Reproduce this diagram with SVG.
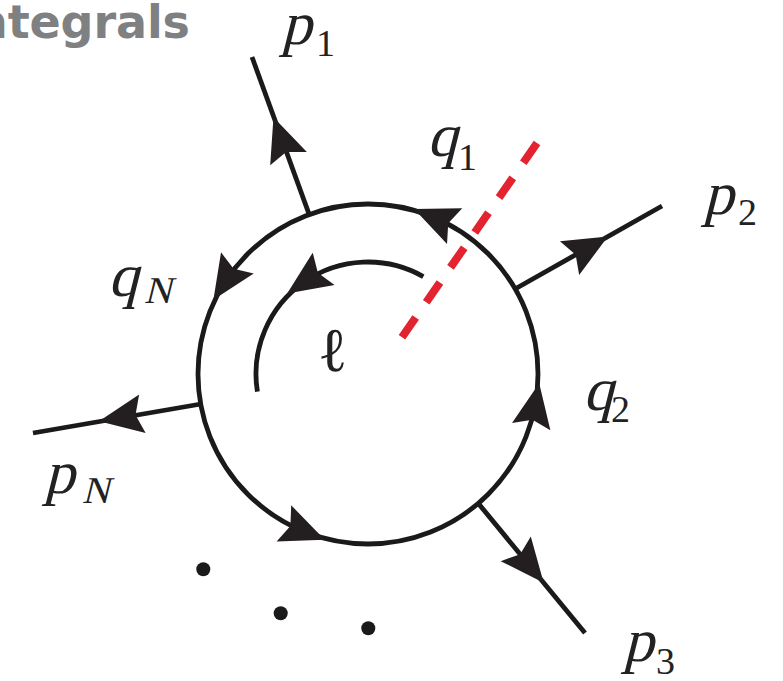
<svg xmlns="http://www.w3.org/2000/svg" width="783" height="681" viewBox="0 0 783 681">
<style>
.ln{fill:none;stroke:#1a1a1a;stroke-width:4.8}
.ah{fill:#231f20}
.lt{font-family:"Liberation Serif","Times New Roman",serif;font-size:61px;fill:#222}
.sub{font-family:"Liberation Serif","Times New Roman",serif;font-size:38px;fill:#222}
.cut{fill:none;stroke:#e3232f;stroke-width:8;stroke-dasharray:24 18.5}
</style>
<defs>
<path id="ah" d="M22,0 L-22,-19.5 L-15,0 L-22,19.5 Z"/>
</defs>
<rect width="783" height="681" fill="#fff"/>
<text x="-25" y="38" font-family="DejaVu Sans,sans-serif" font-weight="bold" font-size="46" fill="#7e8081" textLength="215" lengthAdjust="spacing">ntegrals</text>
<g id="connectors">
<line class="ln" x1="309" y1="214" x2="252" y2="57"/>
<line class="ln" x1="515" y1="289" x2="662" y2="206"/>
<line class="ln" x1="201" y1="404" x2="33" y2="433"/>
<line class="ln" x1="478" y1="503" x2="585" y2="633"/>
<use href="#ah" class="ah" transform="translate(281,138) rotate(-110)"/>
<use href="#ah" class="ah" transform="translate(588.7,247.3) rotate(-29.5)"/>
<use href="#ah" class="ah" transform="translate(120.7,417.5) rotate(170.4)"/>
<use href="#ah" class="ah" transform="translate(529.7,565.8) rotate(50.6)"/>
</g>
<g id="loop">
<circle class="ln" cx="368" cy="374" r="170"/>
<use href="#ah" class="ah" transform="translate(434.4,217.5) rotate(-157)"/>
<use href="#ah" class="ah" transform="translate(225.4,281.4) rotate(123)"/>
<use href="#ah" class="ah" transform="translate(304.3,531.6) rotate(22)"/>
<use href="#ah" class="ah" transform="translate(535.2,405) rotate(-79.5)"/>
</g>
<g id="loop-momentum">
<path class="ln" d="M423.3,276.6 A112,112 0 0 0 257.4,391.7"/>
<use href="#ah" class="ah" transform="translate(305.4,281.1) rotate(146)"/>
<text x="318" y="371" font-family="DejaVu Serif,serif" font-size="62" fill="#222">ℓ</text>
</g>
<g id="cut">
<line class="cut" x1="537" y1="143" x2="400" y2="340"/>
</g>
<g id="dots" fill="#1a1a1a">
<circle cx="203.3" cy="569.3" r="7"/>
<circle cx="280.7" cy="613.3" r="7"/>
<circle cx="368.3" cy="628.3" r="7"/>
</g>
<g id="labels">
<g id="p1"><text class="lt" transform="translate(281,44) skewX(-14)">p</text><text class="sub" x="316" y="56">1</text></g>
<g id="q1"><text class="lt" transform="translate(427,156) skewX(-14)">q</text><text class="sub" x="458" y="170">1</text></g>
<g id="p2"><text class="lt" transform="translate(703,214) skewX(-14)">p</text><text class="sub" x="738" y="225">2</text></g>
<g id="qN"><text class="lt" transform="translate(108,296) skewX(-14)">q</text><text class="sub" transform="translate(144,303) skewX(-14)">N</text></g>
<g id="pN"><text class="lt" transform="translate(44,493) skewX(-14)">p</text><text class="sub" transform="translate(82,503) skewX(-14)">N</text></g>
<g id="q2"><text class="lt" transform="translate(583,410) skewX(-14)">q</text><text class="sub" x="611" y="422">2</text></g>
<g id="p3"><text class="lt" transform="translate(623,661) skewX(-14)">p</text><text class="sub" x="656" y="674">3</text></g>
</g>
</svg>
